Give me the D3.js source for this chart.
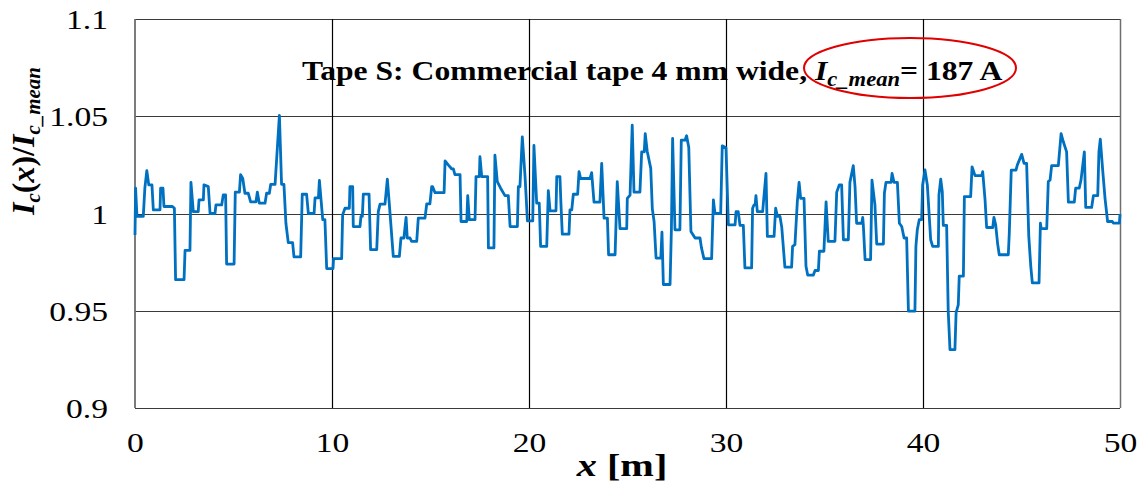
<!DOCTYPE html>
<html>
<head>
<meta charset="utf-8">
<title>Ic(x)/Ic_mean along tape S</title>
<script src="https://d3js.org/d3.v7.min.js"></script>
<style>
  body { margin: 0; background: #fff; }
  text { font-family: "Liberation Serif", "Times New Roman", serif; fill: #000; }
</style>
</head>
<body>
<div id="chart"></div>
<script>
// position along the tape [m]
const posM = [
  0.00, 0.03, 0.10, 0.42, 0.50, 0.60, 0.70, 0.86, 0.93, 1.27, 1.30, 1.42, 1.47, 1.90, 2.00, 2.06, 2.49, 2.54, 2.79, 2.84,
  2.96, 3.21, 3.25, 3.47, 3.50, 3.72, 3.81, 4.06, 4.11, 4.40, 4.48, 4.60, 4.65,
  5.03, 5.09, 5.30, 5.36, 5.47, 5.58, 5.75, 5.87, 6.14, 6.21, 6.31, 6.60, 6.68, 6.82, 6.89, 7.11, 7.33, 7.44, 7.56,
  7.66, 7.78, 8.00, 8.07, 8.41, 8.49, 8.71, 8.80, 9.09, 9.14, 9.31, 9.36, 9.53, 9.64, 9.73, 10.05,
  10.08, 10.49, 10.54, 10.66, 10.88, 10.91, 11.05, 11.08, 11.42, 11.47, 11.54, 11.59, 11.88, 11.96, 12.27, 12.35,
  12.44, 12.69, 12.81, 12.91, 13.11, 13.42, 13.50, 13.65, 13.76, 13.82, 13.96, 14.04, 14.30, 14.38, 14.72, 14.81, 14.97, 15.06,
  15.11, 15.23, 15.69, 15.74, 15.90, 16.08, 16.16, 16.24, 16.50, 16.55, 16.84, 16.89, 16.97, 17.26, 17.31, 17.48,
  17.51, 17.60, 17.90, 17.94, 18.22, 18.27, 18.39, 18.56, 18.78, 18.95, 19.04, 19.41, 19.46, 19.54, 19.66, 19.80, 19.92, 20.19, 20.25,
  20.39, 20.52, 20.59, 20.90, 20.98, 21.07, 21.37, 21.41, 21.57, 21.62, 21.69, 22.03, 22.08, 22.17, 22.25, 22.47,
  22.54, 22.62, 23.10, 23.18, 23.30, 23.60, 23.69, 23.81, 23.98, 24.04, 24.37, 24.48, 24.62, 24.96, 24.99, 25.13, 25.24,
  25.33, 25.63, 25.72, 25.85, 25.90, 26.00, 26.18, 26.26, 26.35, 26.45, 26.69, 26.75, 26.82, 27.16, 27.23, 27.29,
  27.41, 27.66, 27.73, 27.92, 28.00, 28.11, 28.22, 28.43, 28.68, 28.75, 28.88, 29.27, 29.36, 29.44, 29.73, 29.81, 30.00, 30.12, 30.46,
  30.51, 30.62, 30.71, 30.88, 30.96, 31.30, 31.35, 31.42, 31.48, 31.52, 31.59, 31.86, 32.03, 32.10, 32.44, 32.52,
  32.61, 32.74, 32.83, 32.99, 33.33, 33.38, 33.50, 33.62, 33.71, 33.79, 33.96, 34.06, 34.15, 34.43, 34.52, 34.69, 34.74, 34.97, 35.08, 35.19, 35.53,
  35.62, 35.75, 35.87, 35.96, 36.21, 36.29, 36.46, 36.55, 36.63, 36.89, 36.94, 36.97, 37.06, 37.34, 37.41, 37.56,
  37.65, 37.99, 38.04, 38.12, 38.38, 38.43, 38.53, 38.70, 38.80, 38.92, 39.04, 39.17, 39.26, 39.59, 39.64, 39.71, 39.81, 39.93, 39.98, 40.10, 40.22, 40.39, 40.49,
  40.78, 40.81, 40.90, 40.98, 41.03, 41.20, 41.28, 41.37, 41.62, 41.68, 41.79, 41.84, 42.05, 42.10, 42.42, 42.49,
  42.64, 42.98, 43.03, 43.15, 43.23, 43.54, 43.60, 43.69, 43.79, 43.87, 44.33, 44.38, 44.48, 44.72, 44.79, 45.01, 45.13, 45.26, 45.37, 45.47, 45.55,
  45.89, 45.96, 46.00, 46.28, 46.36, 46.45, 46.53, 46.87, 47.01, 47.12, 47.29, 47.38, 47.68, 47.75, 47.93, 48.02,
  48.19, 48.26, 48.56, 48.65, 48.87, 48.93, 49.00, 49.12, 49.24, 49.37, 49.61, 49.66, 49.97, 50.00
];

// normalised critical current Ic(x)/Ic_mean
const icRatio = [
  0.989, 1.013, 0.9985, 0.9985, 1.013, 1.022, 1.0147, 1.0147, 1.0019, 1.0019, 1.013, 1.013, 1.0036, 1.0036, 1.0027, 0.966, 0.966, 0.981, 0.981, 1.016,
  1.001, 1.001, 1.007, 1.007, 1.0147, 1.0138, 1.0, 1.0, 1.0044, 1.0044, 1.0095, 1.0095, 0.974,
  0.974, 1.011, 1.011, 1.020, 1.018, 1.0104, 1.0104, 1.006, 1.006, 1.011, 1.0053, 1.0053, 1.0104, 1.0104, 1.015, 1.015, 1.0505, 1.015, 1.015,
  0.995, 0.985, 0.985, 0.9777, 0.9777, 1.0099, 1.0099, 1.0, 1.0, 1.008, 1.008, 1.017, 0.9968, 0.9968, 0.9717, 0.9717,
  0.9768, 0.9768, 0.9993, 1.0027, 1.0027, 1.0138, 1.0138, 0.9933, 0.9933, 0.9985, 0.9985, 1.010, 1.010, 0.9814, 0.9814, 1.001,
  1.0048, 1.0048, 1.0177, 1.0048, 0.978, 0.978, 0.9874, 0.9874, 0.998, 0.9874, 0.9874, 0.9857, 0.9857, 0.9976, 0.9976, 1.005, 1.005, 1.0138,
  1.0138, 1.0107, 1.0107, 1.027, 1.025, 1.0229, 1.0229, 1.020, 1.020, 0.9959, 0.9959, 1.0092, 0.9968, 0.9968, 1.019, 1.019,
  1.0292, 1.019, 1.019, 0.9823, 0.9823, 1.030, 1.0164, 1.013, 1.0092, 1.0092, 0.9933, 0.9933, 1.0138, 1.0138, 1.0394, 1.019, 0.9962, 0.9962, 1.035,
  1.0053, 1.0053, 0.9831, 0.9831, 1.0118, 1.0014, 1.0014, 1.019, 1.019, 1.0053, 0.9894, 0.9894, 1.0019, 1.0019, 1.0099, 1.0099,
  1.0215, 1.018, 1.018, 1.021, 1.0058, 1.0058, 1.0258, 0.9976, 0.9976, 0.9788, 0.9788, 1.0164, 0.9922, 0.9922, 1.0078, 1.0095, 1.0454,
  1.011, 1.011, 1.0317, 1.0317, 1.041, 1.032, 1.0232, 1.0024, 0.9959, 0.9771, 0.9771, 0.9904, 0.9635, 0.9635, 0.9925, 1.0386,
  0.9916, 0.9916, 1.0377, 1.0377, 1.040, 1.034, 0.9908, 0.9874, 0.9874, 0.9826, 0.9768, 0.9768, 1.007, 1.0, 1.0, 1.0348, 1.0338, 0.9942, 0.9942,
  1.001, 1.001, 0.9939, 0.9939, 0.972, 0.972, 1.0027, 1.0044, 1.0044, 1.0092, 1.001, 1.001, 1.0206, 0.9882, 0.9882, 1.0027,
  0.9985, 0.9985, 0.993, 0.9724, 0.9724, 0.9831, 0.984, 1.006, 1.016, 1.0078, 1.0078, 0.9729, 0.9683, 0.9683, 0.9707, 0.9707, 0.9806, 0.9806, 1.006, 0.9857, 0.9857,
  1.011, 1.0147, 1.0147, 0.9865, 0.9865, 1.016, 1.0246, 1.0138, 0.995, 0.995, 0.998, 0.9942, 0.9763, 0.9763, 1.0172, 1.0044,
  0.9843, 0.9843, 1.0104, 1.016, 1.016, 1.0206, 1.016, 1.016, 0.995, 0.9933, 0.9874, 0.9874, 0.9498, 0.9498, 0.9831, 0.9916, 0.9968, 0.9968, 1.0147, 1.0224, 1.0147, 0.9865, 0.9831,
  0.9831, 1.0095, 1.0177, 1.0112, 0.9939, 0.9939, 0.9498, 0.930, 0.930, 0.949, 0.953, 0.9678, 0.9678, 1.0087, 1.0087, 1.024,
  1.0195, 1.0195, 1.0215, 1.007, 0.9928, 0.9928, 0.998, 0.9942, 0.9843, 0.9788, 0.9788, 0.9899, 1.0223, 1.0223, 1.025, 1.0304, 1.0258, 1.0258, 0.9882, 0.9729, 0.9643,
  0.9643, 0.995, 0.9922, 0.9922, 1.0164, 1.0172, 1.0246, 1.0246, 1.0411, 1.037, 1.0317, 1.0058, 1.0058, 1.013, 1.013, 1.0172,
  1.0317, 1.0031, 1.0031, 1.0092, 1.0092, 1.0317, 1.0382, 1.0224, 1.0078, 0.9959, 0.9959, 0.9951, 0.9951, 0.9997
];

const xTicks = [0, 10, 20, 30, 40, 50];
const yTicks = [0.9, 0.95, 1, 1.05, 1.1];
const yTickLabels = ["0.9", "0.95", "1", "1.05", "1.1"];

// the source picture is a bit wider than tall, so text is stretched sideways
const stretch = 1.2;

let margin = {top: 19, right: 23, bottom: 74, left: 135};
let w = 1143 - margin.left - margin.right;
let h = 482 - margin.top - margin.bottom;

let svg = d3.select("#chart")
    .append("svg")
      .attr("width", w + margin.left + margin.right)
      .attr("height", h + margin.top + margin.bottom)
    .append("g")
      .attr("transform", "translate(" + margin.left + "," + margin.top + ")");

let xScale = d3.scaleLinear().domain([0, 50]).range([0, w]);
let yScale = d3.scaleLinear().domain([0.9, 1.1]).range([h, 0]);

// grid
svg.append("g")
  .selectAll("line")
  .data(yTicks)
  .enter()
  .append("line")
    .attr("x1", 0).attr("x2", w)
    .attr("y1", d => Math.round(yScale(d)) + 0.5)
    .attr("y2", d => Math.round(yScale(d)) + 0.5)
    .attr("stroke", "#3a3a3a")
    .attr("stroke-width", 1.2);

svg.append("g")
  .selectAll("line")
  .data(xTicks.slice(1, -1))
  .enter()
  .append("line")
    .attr("x1", d => Math.round(xScale(d)) + 0.5)
    .attr("x2", d => Math.round(xScale(d)) + 0.5)
    .attr("y1", 0).attr("y2", h)
    .attr("stroke", "#000")
    .attr("stroke-width", 1.2);

// right border and left axis line
svg.append("line")
  .attr("x1", w + 0.5).attr("x2", w + 0.5)
  .attr("y1", 0).attr("y2", h)
  .attr("stroke", "#6e6e6e").attr("stroke-width", 1.5);

svg.append("line")
  .attr("x1", 0).attr("x2", 0)
  .attr("y1", 0).attr("y2", h)
  .attr("stroke", "#6e6e6e").attr("stroke-width", 1.8);

// the data line
let line = d3.line()
  .x((d, i) => xScale(posM[i]))
  .y(d => yScale(d));

svg.append("path")
  .datum(icRatio)
  .attr("d", line)
  .attr("fill", "none")
  .attr("stroke", "#0070C0")
  .attr("stroke-width", 2.8)
  .attr("stroke-linejoin", "round");

// axes (labels only, Excel style)
let xAxis = d3.axisBottom(xScale).tickValues(xTicks).tickSize(0).tickPadding(24);
let yAxis = d3.axisLeft(yScale).tickValues(yTicks).tickSize(0)
  .tickFormat((d, i) => yTickLabels[i]);

let gx = svg.append("g").attr("transform", "translate(0," + h + ")").call(xAxis);
let gy = svg.append("g").call(yAxis);
[gx, gy].forEach(g => {
  g.select(".domain").remove();
  g.selectAll("text")
    .attr("font-family", "Liberation Serif")
    .attr("font-size", "28px")
    .attr("fill", "#000");
});
gx.selectAll("text").attr("transform", "scale(" + stretch + ",1)");
gy.selectAll("text")
  .attr("x", 0)
  .attr("dy", "0.34em")
  .attr("transform", "translate(-27,0) scale(" + stretch + ",1)");

// axis titles
let xt = svg.append("text")
  .attr("transform", "translate(" + (622 - margin.left) + "," + (h + 68) + ") scale(1.3,1)")
  .attr("text-anchor", "middle")
  .attr("font-size", "31px")
  .attr("font-weight", "bold");
xt.append("tspan").attr("font-style", "italic").text("x");
xt.append("tspan").text(" [m]");

let yt = svg.append("text")
  .attr("transform", "translate(" + (34 - margin.left) + "," + (141 - margin.top) + ") rotate(-90)")
  .attr("text-anchor", "middle")
  .attr("font-size", "32px")
  .attr("font-weight", "bold")
  .attr("font-style", "italic");
yt.append("tspan").text("I");
yt.append("tspan").attr("font-size", "21px").attr("dy", 6).text("c");
yt.append("tspan").attr("dy", -6).attr("font-style", "normal").text("(");
yt.append("tspan").text("x");
yt.append("tspan").attr("font-style", "normal").text(")/");
yt.append("tspan").text("I");
yt.append("tspan").attr("font-size", "21px").attr("dy", 6).text("c_mean");

// chart title with the highlighted mean current
let title = svg.append("text")
  .attr("transform", "translate(" + (302 - margin.left) + "," + (80 - margin.top) + ") scale(1.13,1)")
  .attr("font-size", "28px")
  .attr("font-weight", "bold");
title.append("tspan").text("Tape S: Commercial tape 4 mm wide,");
title.append("tspan").attr("font-style", "italic").text(" I");
title.append("tspan").attr("font-style", "italic").attr("font-size", "20px").attr("dy", 6).text("c_mean");
title.append("tspan").attr("dy", -6).text("= 187 A");

svg.append("ellipse")
  .attr("cx", 910 - margin.left)
  .attr("cy", 68 - margin.top)
  .attr("rx", 106)
  .attr("ry", 30)
  .attr("fill", "none")
  .attr("stroke", "#e00000")
  .attr("stroke-width", 2);
</script>
</body>
</html>
